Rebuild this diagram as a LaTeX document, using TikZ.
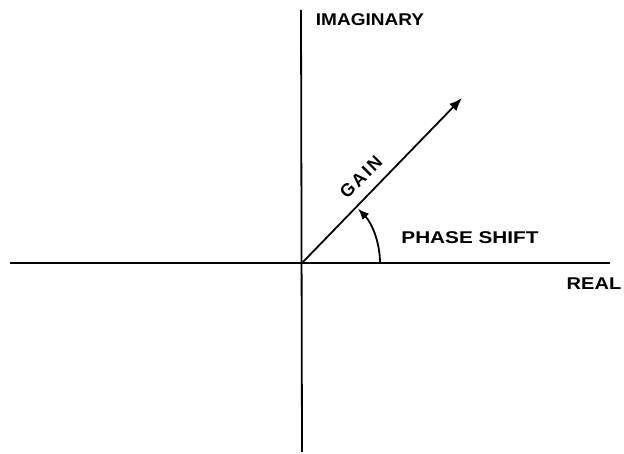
\documentclass[tikz,border=0pt]{standalone}
\usepackage{fontspec}
\setmainfont{Liberation Sans}
\usetikzlibrary{arrows.meta}
\begin{document}
\begin{tikzpicture}[x=1pt,y=-1pt,
  axis/.style={line width=1.8pt},
  vec/.style={line width=1.8pt,-{Latex[length=13pt,width=10pt]}},
  lbl/.style={font=\bfseries\fontsize{17}{17}\selectfont,inner sep=0pt}]
\useasboundingbox (0,0) rectangle (624,454);
\coordinate (O) at (302,263);
\coordinate (L) at (10,263);
\coordinate (R) at (610,263);
\coordinate (T) at (301,10);
\coordinate (B) at (302,452);
\coordinate (G) at (462,98);
\coordinate (A0) at (380,263);
\draw[axis] (L) -- (R);
\draw[axis] (T) -- (B);
\draw[vec] (O) -- (G);
\draw[line width=1.8pt,-{Latex[length=11pt,width=9pt]}] (A0) arc[start angle=0,end angle=-44,radius=78];
\node[lbl,xscale=1.12] (im) at (370,20) {IMAGINARY};
\node[lbl,xscale=1.22] (ps) at (470,238) {PHASE SHIFT};
\node[lbl,xscale=1.18] (re) at (594,284) {REAL};
\node[lbl,rotate=45,font=\bfseries\fontsize{18}{18}\selectfont\addfontfeature{LetterSpace=12}] (ga) at (361,177) {GAIN};
\end{tikzpicture}
\end{document}
